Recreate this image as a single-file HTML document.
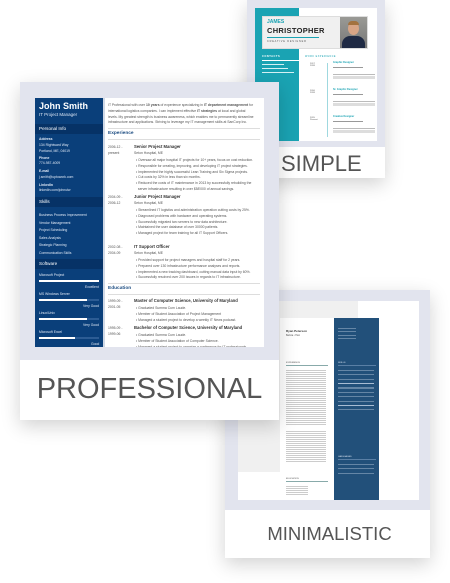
<!DOCTYPE html>
<html><head><meta charset="utf-8"><style>
*{margin:0;padding:0;box-sizing:border-box}
body{width:450px;height:583px;background:#fff;position:relative;overflow:hidden;font-family:"Liberation Sans",sans-serif}
.a{position:absolute}
.card{position:absolute;background:#e2e4ee;box-shadow:0 6px 18px rgba(0,0,0,.18)}
.lbl{position:absolute;left:0;right:0;bottom:0;background:#fff;color:#555;text-align:center}
.t{position:absolute;font-size:3.4px;color:#555;white-space:nowrap;line-height:1}
.w{color:#dfe8f5}
</style></head><body>

<!-- SIMPLE card -->
<div class="card" style="left:247px;top:0;width:138px;height:178px">
  <div class="a" style="left:8px;top:8px;width:122px;height:133px;background:#fff"></div>
  <div class="a" style="left:8px;top:8px;width:44px;height:133px;background:#1aa3b3"></div>
  <div class="a" style="left:15px;top:16px;width:106px;height:33px;background:#f0f0f0;border:1px solid #ddd"></div>
  <div class="t" style="left:20px;top:20px;font-size:5px;color:#1aa3b3;font-weight:bold">JAMES</div>
  <div class="t" style="left:20px;top:27px;font-size:7.5px;color:#222;font-weight:bold;letter-spacing:.3px">CHRISTOPHER</div>
  <div class="a" style="left:20px;top:37px;width:52px;height:.8px;background:#1aa3b3"></div>
  <div class="t" style="left:20px;top:41px;font-size:2.5px;letter-spacing:.8px">CREATIVE DESIGNER</div>
  <div class="a" style="left:93px;top:17px;width:27px;height:31px;background:linear-gradient(#9a9a96,#777);overflow:hidden">
    <div class="a" style="left:8px;top:5px;width:11px;height:13px;border-radius:50%;background:#d8a586"></div>
    <div class="a" style="left:8px;top:4px;width:11px;height:4px;border-radius:5px 5px 0 0;background:#a3723f"></div>
    <div class="a" style="left:2px;top:19px;width:23px;height:14px;border-radius:8px 8px 0 0;background:#1f2a44"></div>
  </div>
  <div class="t" style="left:15px;top:56px;font-size:2.6px;color:#fff;font-weight:bold;letter-spacing:.5px">CONTACTS</div>
  <div class="a" style="left:15px;top:60px;width:37px;height:.6px;background:#fff"></div>
  <div class="a" style="left:15px;top:64px;width:22px;height:1px;background:#d6f1f4"></div>
  <div class="a" style="left:15px;top:68px;width:26px;height:1px;background:#d6f1f4"></div>
  <div class="a" style="left:15px;top:72px;width:32px;height:1px;background:#d6f1f4"></div>
  <div class="t" style="left:58px;top:56px;font-size:2.4px;color:#1aa3b3;letter-spacing:.5px">WORK EXPERIENCE</div>
  <div class="a" style="left:80px;top:63px;width:.6px;height:74px;background:#9fd8df"></div>
  <div class="t" style="left:63px;top:63px;font-size:2.2px">2017<br>2018</div>
  <div class="t" style="left:86px;top:62px;font-size:2.5px;color:#1aa3b3;font-weight:bold">Graphic Designer</div>
  <div class="a" style="left:86px;top:67px;width:30px;height:1px;background:#999"></div>
  <div class="a" style="left:86px;top:74px;width:42px;height:5px;background:repeating-linear-gradient(#bbb 0 .8px,transparent .8px 1.8px)"></div>
  <div class="t" style="left:63px;top:90px;font-size:2.2px">2016<br>2018</div>
  <div class="t" style="left:86px;top:89px;font-size:2.5px;color:#1aa3b3;font-weight:bold">Sr. Graphic Designer</div>
  <div class="a" style="left:86px;top:94px;width:30px;height:1px;background:#999"></div>
  <div class="a" style="left:86px;top:101px;width:42px;height:5px;background:repeating-linear-gradient(#bbb 0 .8px,transparent .8px 1.8px)"></div>
  <div class="t" style="left:63px;top:117px;font-size:2.2px">2015<br>Present</div>
  <div class="t" style="left:86px;top:116px;font-size:2.5px;color:#1aa3b3;font-weight:bold">Creative Designer</div>
  <div class="a" style="left:86px;top:121px;width:30px;height:1px;background:#999"></div>
  <div class="a" style="left:86px;top:128px;width:42px;height:5px;background:repeating-linear-gradient(#bbb 0 .8px,transparent .8px 1.8px)"></div>
  <div class="lbl" style="height:31px;font-size:22px;line-height:34px;text-align:left;padding-left:34px">SIMPLE</div>
</div>

<!-- MINIMALISTIC card -->
<div class="card" style="left:225px;top:290px;width:205px;height:268px">
  <div class="a" style="left:13px;top:11px;width:181px;height:199px;background:#fff"></div>
  <div class="a" style="left:13px;top:11px;width:120px;height:171px;background:#f0f0f0"></div>
  <div class="a" style="left:55px;top:28px;width:99px;height:182px;background:#fff"></div>
  <div class="a" style="left:109px;top:28px;width:45px;height:182px;background:#22507a"></div>
  <div class="t" style="left:61px;top:40px;font-size:3px;color:#333;font-weight:bold">Ryan Peterson</div>
  <div class="t" style="left:61px;top:45px;font-size:2.3px">Barista • Host</div>
  <div class="t" style="left:61px;top:72px;font-size:2.2px">EXPERIENCE</div>
  <div class="a" style="left:61px;top:75px;width:42px;height:.8px;background:#8aa"></div>
  <div class="a" style="left:61px;top:80px;width:40px;height:55px;background:repeating-linear-gradient(#999 0 .7px,transparent .7px 2px)"></div>
  <div class="a" style="left:61px;top:141px;width:40px;height:32px;background:repeating-linear-gradient(#999 0 .7px,transparent .7px 2px)"></div>
  <div class="t" style="left:61px;top:188px;font-size:2.2px">EDUCATION</div>
  <div class="a" style="left:61px;top:191px;width:42px;height:.8px;background:#8aa"></div>
  <div class="a" style="left:61px;top:196px;width:22px;height:9px;background:repeating-linear-gradient(#999 0 .7px,transparent .7px 2px)"></div>
  <div class="a" style="left:113px;top:38px;width:18px;height:13px;background:repeating-linear-gradient(#a8bcd3 0 .7px,transparent .7px 3.5px)"></div>
  <div class="t w" style="left:113px;top:72px;font-size:2.2px">SKILLS</div>
  <div class="a" style="left:113px;top:75px;width:38px;height:.6px;background:#5a7fa5"></div>
  <div class="a" style="left:113px;top:80px;width:36px;height:40px;background:repeating-linear-gradient(#a8bcd3 0 .7px,transparent .7px 4.4px)"></div>
  <div class="t w" style="left:113px;top:166px;font-size:2.2px">LANGUAGES</div>
  <div class="a" style="left:113px;top:169px;width:38px;height:.6px;background:#5a7fa5"></div>
  <div class="a" style="left:113px;top:174px;width:36px;height:12px;background:repeating-linear-gradient(#a8bcd3 0 .7px,transparent .7px 4.4px)"></div>
  <div class="lbl" style="height:48px;font-size:18.5px;line-height:48px;padding-left:4px">MINIMALISTIC</div>
</div>

<!-- PROFESSIONAL card -->
<div class="card" style="left:20px;top:82px;width:259px;height:338px">
  <div class="a" style="left:15px;top:16px;width:229px;height:249px;background:#fff;overflow:hidden">
    <div class="a" style="left:0;top:0;width:68px;height:249px;background:#0a3f7a"></div>
    <div class="t" style="left:4px;top:4px;font-size:9px;color:#fff;font-weight:bold">John Smith</div>
    <div class="t" style="left:4px;top:15px;font-size:4.5px;color:#dbe6f5">IT Project Manager</div>
    <div class="a" style="left:0;top:26px;width:68px;height:10px;background:#063266"></div>
    <div class="t" style="left:4px;top:29px;font-size:4.6px;color:#fff">Personal Info</div>
    <div class="t w" style="left:4px;top:40px;font-weight:bold">Address</div>
    <div class="t w" style="left:4px;top:45px;line-height:5.5px">134 Rightward Way<br>Portland, ME, 04019</div>
    <div class="t w" style="left:4px;top:59px;font-weight:bold">Phone</div>
    <div class="t w" style="left:4px;top:64px">774-987-4009</div>
    <div class="t w" style="left:4px;top:72px;font-weight:bold">E-mail</div>
    <div class="t w" style="left:4px;top:78px">j.smith@uptowork.com</div>
    <div class="t w" style="left:4px;top:86px;font-weight:bold">LinkedIn</div>
    <div class="t w" style="left:4px;top:91px">linkedin.com/johnutw</div>
    <div class="a" style="left:0;top:99px;width:68px;height:10px;background:#063266"></div>
    <div class="t" style="left:4px;top:102px;font-size:4.6px;color:#fff">Skills</div>
    <div class="t w" style="left:4px;top:114px;line-height:7.6px">Business Process Improvement<br>Vendor Management<br>Project Scheduling<br>Sales Analysis<br>Strategic Planning<br>Communication Skills</div>
    <div class="a" style="left:0;top:161px;width:68px;height:10px;background:#063266"></div>
    <div class="t" style="left:4px;top:164px;font-size:4.6px;color:#fff">Software</div>
    <div class="t w" style="left:4px;top:176px">Microsoft Project</div>
    <div class="a" style="left:4px;top:182px;width:60px;height:1.5px;background:#fff"></div>
    <div class="t w" style="left:50px;top:188px">Excellent</div>
    <div class="t w" style="left:4px;top:195px">MS Windows Server</div>
    <div class="a" style="left:4px;top:201px;width:60px;height:1.5px;background:#2c5c94"></div><div class="a" style="left:4px;top:201px;width:48px;height:1.5px;background:#fff"></div>
    <div class="t w" style="left:48px;top:207px">Very Good</div>
    <div class="t w" style="left:4px;top:214px">Linux/Unix</div>
    <div class="a" style="left:4px;top:220px;width:60px;height:1.5px;background:#2c5c94"></div><div class="a" style="left:4px;top:220px;width:48px;height:1.5px;background:#fff"></div>
    <div class="t w" style="left:48px;top:226px">Very Good</div>
    <div class="t w" style="left:4px;top:233px">Microsoft Excel</div>
    <div class="a" style="left:4px;top:239px;width:60px;height:1.5px;background:#2c5c94"></div><div class="a" style="left:4px;top:239px;width:36px;height:1.5px;background:#fff"></div>
    <div class="t w" style="left:56px;top:245px">Good</div>

    <div class="a" style="left:68px;top:0;width:2px;height:249px;background:#cfd8e6"></div>
    <div class="t" style="left:73px;top:5px;line-height:5.8px">IT Professional with over <b>10 years</b> of experience specializing in <b>IT department management</b> for<br>international logistics companies. I can implement effective <b>IT strategies</b> at local and global<br>levels. My greatest strength is business awareness, which enables me to permanently streamline<br>infrastructure and applications. Striving to leverage my IT management skills at SanCorp Inc.</div>
    <div class="a" style="left:73px;top:30px;width:152px;height:.6px;background:#ddd"></div>
    <div class="t" style="left:73px;top:34px;font-size:4.8px;color:#1d4d82;font-weight:bold">Experience</div>
    <div class="a" style="left:73px;top:41px;width:152px;height:.6px;background:#ddd"></div>

    <div class="t" style="left:73px;top:47px;line-height:5.8px">2006-12 -<br>present</div>
    <div class="t" style="left:99px;top:47px;font-size:4.2px;color:#333;font-weight:bold">Senior Project Manager</div>
    <div class="t" style="left:99px;top:54px">Seton Hospital, ME</div>
    <div class="t" style="left:101px;top:60px;line-height:5.8px">• Oversaw all major hospital IT projects for 10+ years, focus on cost reduction.<br>• Responsible for creating, improving, and developing IT project strategies.<br>• Implemented the highly successful Lean Training and Six Sigma projects.<br>• Cut costs by 32% in less than six months.<br>• Reduced the costs of IT maintenance in 2013 by successfully rebuilding the<br>&nbsp;&nbsp;server infrastructure resulting in over $58'000 of annual savings.</div>

    <div class="t" style="left:73px;top:97px;line-height:5.8px">2004-09 -<br>2006-12</div>
    <div class="t" style="left:99px;top:97px;font-size:4.2px;color:#333;font-weight:bold">Junior Project Manager</div>
    <div class="t" style="left:99px;top:104px">Seton Hospital, ME</div>
    <div class="t" style="left:101px;top:110px;line-height:5.8px">• Streamlined IT logistics and administration operation cutting costs by 25%.<br>• Diagnosed problems with hardware and operating systems.<br>• Successfully migrated two servers to new data architecture.<br>• Maintained the user database of over 30000 patients.<br>• Managed project for team training for all IT Support Officers.</div>

    <div class="t" style="left:73px;top:147px;line-height:5.8px">2002-08 -<br>2004-09</div>
    <div class="t" style="left:99px;top:147px;font-size:4.2px;color:#333;font-weight:bold">IT Support Officer</div>
    <div class="t" style="left:99px;top:154px">Seton Hospital, ME</div>
    <div class="t" style="left:101px;top:160px;line-height:5.8px">• Provided support for project managers and hospital staff for 2 years.<br>• Prepared over 130 infrastructure performance analyses and reports.<br>• Implemented a new tracking dashboard, cutting manual data input by 60%.<br>• Successfully resolved over 200 issues in regards to IT infrastructure.</div>
    <div class="a" style="left:73px;top:185px;width:152px;height:.6px;background:#ddd"></div>
    <div class="t" style="left:73px;top:189px;font-size:4.8px;color:#1d4d82;font-weight:bold">Education</div>
    <div class="a" style="left:73px;top:196px;width:152px;height:.6px;background:#ddd"></div>
    <div class="t" style="left:73px;top:201px;line-height:5.8px">1999-09 -<br>2001-05</div>
    <div class="t" style="left:99px;top:201px;font-size:4.2px;color:#333;font-weight:bold">Master of Computer Science, University of Maryland</div>
    <div class="t" style="left:101px;top:208px;line-height:5.8px">• Graduated Summa Cum Laude.<br>• Member of Student Association of Project Management<br>• Managed a student project to develop a weekly IT News podcast.</div>
    <div class="t" style="left:73px;top:228px;line-height:5.8px">1995-09 -<br>1999-06</div>
    <div class="t" style="left:99px;top:228px;font-size:4.2px;color:#333;font-weight:bold">Bachelor of Computer Science, University of Maryland</div>
    <div class="t" style="left:101px;top:235px;line-height:5.8px">• Graduated Summa Cum Laude.<br>• Member of Student Association of Computer Science.<br>• Managed a student project to organize a conference for IT professionals.</div>
  </div>
  <div class="lbl" style="height:60px;font-size:29px;line-height:58px">PROFESSIONAL</div>
</div>
</body></html>
